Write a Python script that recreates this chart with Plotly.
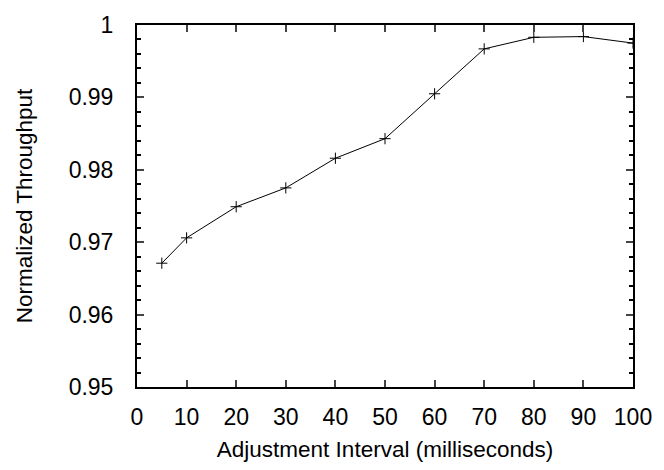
import plotly.graph_objects as go

intervals = [5, 10, 20, 30, 40, 50, 60, 70, 80, 90, 100]
throughput = [0.9671, 0.9706, 0.9749, 0.9775, 0.9816, 0.9843, 0.9905, 0.9967, 0.9983, 0.9984, 0.9975]
x_ticks = [0, 10, 20, 30, 40, 50, 60, 70, 80, 90, 100]
y_ticks = [0.95, 0.96, 0.97, 0.98, 0.99, 1.0]
y_tick_text = ["0.95", "0.96", "0.97", "0.98", "0.99", "1"]

family = "Liberation Sans, Arial, sans-serif"
tick_font = dict(family=family, size=23, color="black")
title_font = dict(family=family, size=22.5, color="black")

fig = go.Figure()
fig.add_trace(go.Scatter(
    x=intervals, y=throughput, mode="lines+markers",
    line=dict(color="black", width=1),
    marker=dict(symbol="cross-thin", size=8, line=dict(color="black", width=1), color="black"),
    showlegend=False,
))

fig.update_layout(
    width=664, height=470,
    margin=dict(l=137, r=27, t=14, b=83),
    plot_bgcolor="white", paper_bgcolor="white",
    font=tick_font,
    xaxis=dict(
        range=[0, 100], tickvals=x_ticks, ticks="inside", ticklen=7, tickwidth=1.5,
        showline=True, linewidth=2, linecolor="black", mirror="allticks",
        showgrid=False, zeroline=False, tickfont=tick_font, ticklabelstandoff=8,
        title=dict(text="Adjustment Interval (milliseconds)", standoff=13, font=title_font),
    ),
    yaxis=dict(
        range=[0.95, 1.0], tickvals=y_ticks, ticktext=y_tick_text,
        ticks="inside", ticklen=7, tickwidth=1.5,
        showline=True, linewidth=2, linecolor="black", mirror="allticks",
        showgrid=False, zeroline=False, tickfont=tick_font, ticklabelstandoff=17,
        minor=dict(dtick=0.002, ticks="inside", ticklen=4, tickwidth=1.5, tickcolor="black", showgrid=False),
        title=dict(text="Normalized Throughput", standoff=30, font=title_font),
    ),
)

fig.write_html("out.html")
